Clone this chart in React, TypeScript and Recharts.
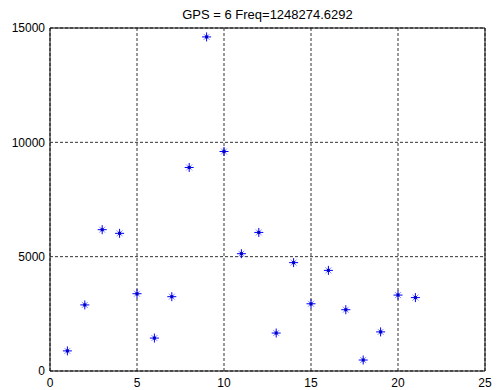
import React from 'react';
import {
  ScatterChart, Scatter, XAxis, YAxis, CartesianGrid, ReferenceArea
} from 'recharts';

// indices of the samples (x) and their values (y)
const xValues = [1, 2, 3, 4, 5, 6, 7, 8, 9, 10, 11, 12, 13, 14, 15, 16, 17, 18, 19, 20, 21];
const yValues = [880, 2890, 6180, 6020, 3380, 1440, 3250, 8900, 14610, 9600, 5130, 6060, 1660, 4740, 2940, 4400, 2680, 480, 1710, 3320, 3210];
const xTicks = [0, 5, 10, 15, 20, 25];
const yTicks = [0, 5000, 10000, 15000];
const title = 'GPS = 6 Freq=1248274.6292';

const data = xValues.map((x, i) => ({ x, y: yValues[i] }));

const Star = (props: any) => {
  const { cx, cy } = props;
  const r = 4.5;
  const d = 3;
  return (
    <g stroke="#0000ff" strokeWidth={1}>
      <line x1={cx - d} y1={cy - d} x2={cx + d} y2={cy + d} strokeOpacity={0.45} />
      <line x1={cx - d} y1={cy + d} x2={cx + d} y2={cy - d} strokeOpacity={0.45} />
      <line x1={cx - r} y1={cy} x2={cx + r} y2={cy} />
      <line x1={cx} y1={cy - r} x2={cx} y2={cy + r} />
      <rect x={cx - 1.5} y={cy - 1.5} width={3} height={3} fill="#0000cc" stroke="none" />
    </g>
  );
};

const tickStyle = { fontSize: 12, fill: '#000', fontFamily: 'Liberation Sans, Arial, sans-serif' };

export default function App() {
  return (
    <div style={{ position: 'absolute', left: 0, top: 0, width: 498, height: 390, background: '#fff' }}>
      <div style={{
        position: 'absolute', left: 50, width: 435, top: 7, textAlign: 'center',
        fontSize: 13, fontFamily: 'Liberation Sans, Arial, sans-serif', color: '#000'
      }}>{title}</div>
      <ScatterChart width={498} height={390} margin={{ top: 28, right: 13, bottom: 0, left: 0 }}>
        <CartesianGrid stroke="#333" strokeDasharray="3 2" />
        <XAxis
          type="number" dataKey="x" domain={[0, 25]} ticks={xTicks} height={19}
          tick={tickStyle} tickSize={0} tickMargin={7} axisLine={false} tickLine={false}
          allowDataOverflow
        />
        <YAxis
          type="number" dataKey="y" domain={[0, 15000]} ticks={yTicks} width={50}
          tick={tickStyle} tickSize={0} tickMargin={5} axisLine={false} tickLine={false}
          allowDataOverflow
        />
        <ReferenceArea x1={0} x2={25} y1={0} y2={15000} fill="none" stroke="#000" strokeWidth={1} ifOverflow="visible" />
        <Scatter data={data} shape={Star} isAnimationActive={false} />
      </ScatterChart>
    </div>
  );
}
